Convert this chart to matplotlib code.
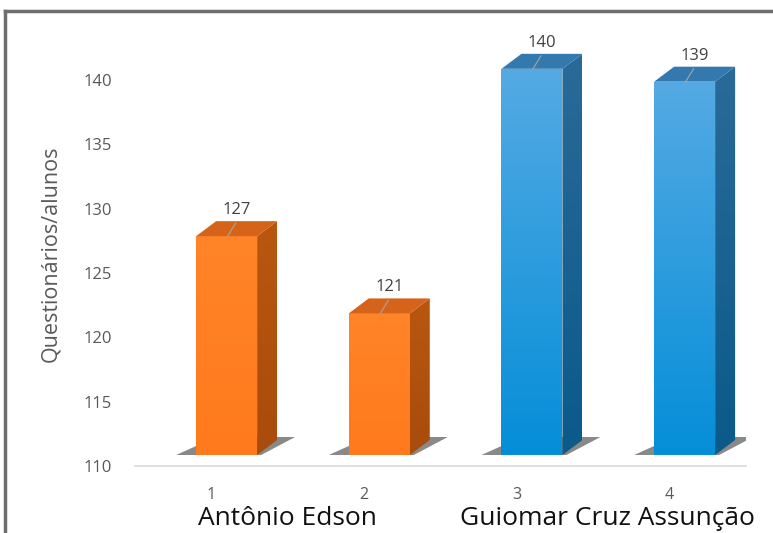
import matplotlib.pyplot as plt
import numpy as np
from matplotlib.patches import Polygon, Rectangle
from matplotlib.lines import Line2D
from matplotlib.colors import LinearSegmentedColormap

plt.rcParams['font.family'] = ['Open Sans', 'DejaVu Sans']

# dados
categorias = [1, 2, 3, 4]
valores = [127, 121, 140, 139]
grupos = ["Antônio Edson", "Guiomar Cruz Assunção"]
grupo_bar = [0, 0, 1, 1]

# cores (frente topo / frente base / lado / topo)
cores = [
    {"frente": ("#FF8428", "#FF7A1C"), "lado": ("#B9570F", "#A84C0C"), "topo": "#D6631A"},
    {"frente": ("#55AAE3", "#058ED8"), "lado": ("#2A6A98", "#0A5A8A"), "topo": "#3479AE"},
]

fig = plt.figure(figsize=(7.73, 5.33), dpi=100)
ax = fig.add_axes([0.175, 0.1257, 0.79, 0.797])
ax.set_xlim(0.5, 4.5)
ax.set_ylim(110, 143)

bb = ax.get_window_extent()
ppx = bb.width / 4.0
ppy = bb.height / 33.0

def px(dx, dy):
    return dx / ppx, dy / ppy

ox, oy = px(15, 11)     # deslocamento da face frontal
ddx, ddy = px(20, 15)   # profundidade 3D
larg = 61 / ppx
grad = np.linspace(0, 1, 256).reshape(-1, 1)

for c, v, g in zip(categorias, valores, grupo_bar):
    cor = cores[g]
    x0 = c + ox - larg / 2
    x1 = x0 + larg
    y0 = 110 + oy
    y1 = v + oy

    # sombra no chao
    sx, sy = px(20, 0)
    ex, ey = px(18, 3)
    sombra = Polygon([(x0 - sx, y0), (x1 + px(4, 0)[0], y0),
                      (x1 + ddx + ex, y0 + ddy + ey), (x0 + ddx, y0 + ddy + ey)],
                     closed=True, facecolor="#3a3a3a", edgecolor="none",
                     alpha=0.6, zorder=2)
    ax.add_patch(sombra)

    # face frontal com gradiente
    rect = Rectangle((x0, y0), larg, y1 - y0, facecolor="none",
                     edgecolor="none", zorder=3)
    ax.add_patch(rect)
    cmap = LinearSegmentedColormap.from_list("f", [cor["frente"][1], cor["frente"][0]])
    im = ax.imshow(grad, extent=[x0, x1, y0, y1], origin="lower",
                   aspect="auto", cmap=cmap, zorder=3)
    im.set_clip_path(rect)

    # face lateral com gradiente
    lado = Polygon([(x1, y0), (x1 + ddx, y0 + ddy), (x1 + ddx, y1 + ddy), (x1, y1)],
                   closed=True, facecolor="none", edgecolor="none", zorder=3)
    ax.add_patch(lado)
    cmap_l = LinearSegmentedColormap.from_list("l", [cor["lado"][1], cor["lado"][0]])
    im2 = ax.imshow(grad, extent=[x1, x1 + ddx, y0, y1 + ddy], origin="lower",
                    aspect="auto", cmap=cmap_l, zorder=3)
    im2.set_clip_path(lado)

    topo = Polygon([(x0, y1), (x1, y1), (x1 + ddx, y1 + ddy), (x0 + ddx, y1 + ddy)],
                   closed=True, facecolor=cor["topo"], edgecolor="none", zorder=3)
    ax.add_patch(topo)

    # linha guia e rotulo
    lx0 = x0 + larg / 2 + px(1, 0)[0]
    ax.add_line(Line2D([lx0, lx0 + px(8, 0)[0]], [y1, y1 + px(0, 13)[1]],
                       color="#A6A6A6", lw=0.8, zorder=4))
    ax.text(x0 + larg / 2 + ddx / 2, y1 + ddy + px(0, 11)[1], str(v),
            ha="center", va="center", fontsize=12, color="#404040", zorder=5)

ax.set_xlim(0.5, 4.5)
ax.set_ylim(110, 143)

for s in ["top", "right", "left"]:
    ax.spines[s].set_visible(False)
ax.spines["bottom"].set_color("#D9D9D9")
ax.spines["bottom"].set_linewidth(1.2)

ax.set_yticks(range(110, 141, 5))
ax.set_xticks(categorias)
ax.tick_params(axis="y", length=0, pad=17, labelsize=12, labelcolor="#595959")
ax.tick_params(axis="x", length=0, pad=15, labelsize=11.5, labelcolor="#595959")
ax.set_ylabel("Questionários/alunos", fontsize=15.5, color="#595959", labelpad=16)

# nomes dos grupos
fig.text(198 / 773, 8 / 533, grupos[0], ha="left", va="baseline",
         fontsize=19, color="#111111")
fig.text(460 / 773, 8 / 533, grupos[1], ha="left", va="baseline",
         fontsize=19, color="#111111")

# moldura
fig.add_artist(Line2D([5 / 773, 1], [1 - 11 / 533, 1 - 11 / 533],
                      transform=fig.transFigure, color="#6E6E6E", lw=2.5))
fig.add_artist(Line2D([5 / 773, 5 / 773], [0, 1 - 11 / 533],
                      transform=fig.transFigure, color="#6E6E6E", lw=2.5))

plt.savefig("out.png", dpi=100)
